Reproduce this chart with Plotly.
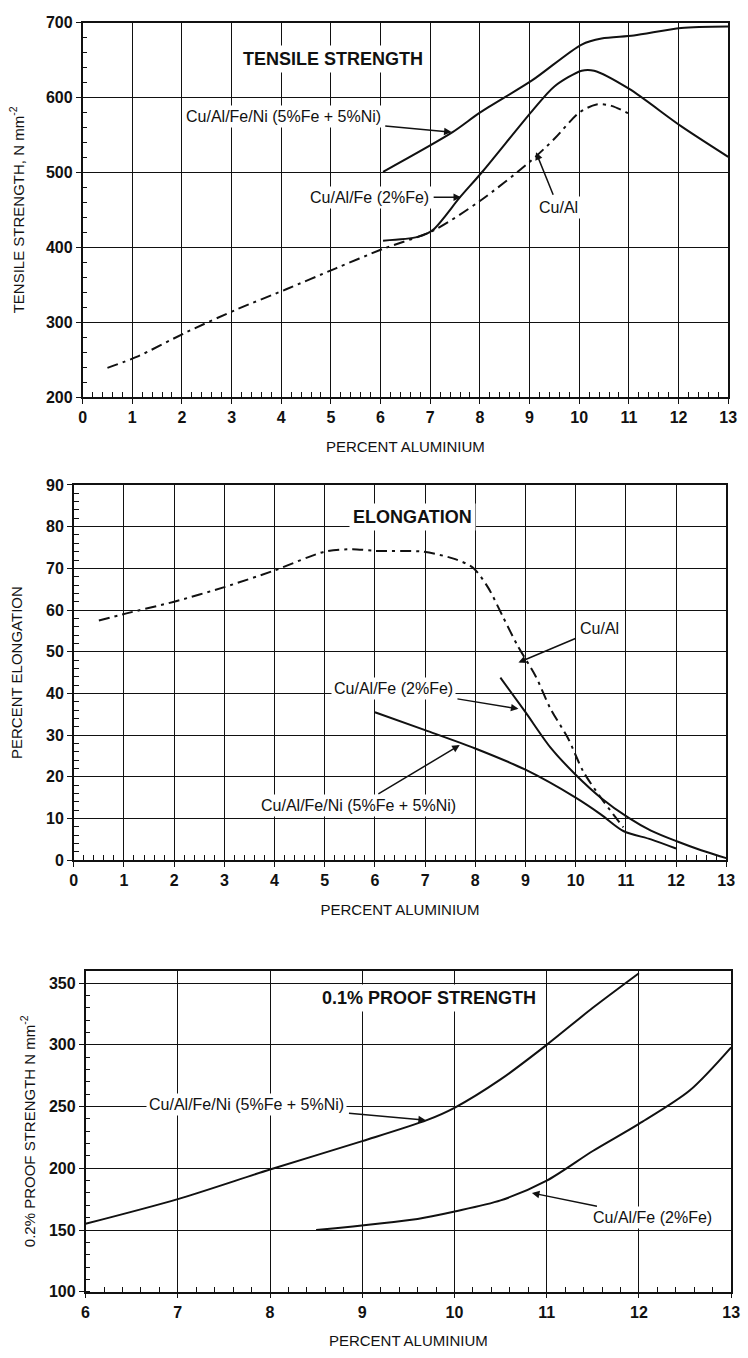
import plotly.graph_objects as go

# ---------------- data ----------------
# Chart 1: Tensile strength (N mm^-2) vs percent aluminium
ts_cual_x = [0.5, 1.1, 2.1, 3.1, 4.1, 5.1, 6.05, 7.05, 8.0, 9.0, 9.5, 10.0, 10.35, 10.65, 11.05]
ts_cual_y = [239, 254, 287, 317, 344, 372, 398, 422, 462, 514, 545, 580, 591, 589, 577]

ts_fe_x = [6.05, 6.75, 7.05, 7.6, 8.05, 9.05, 9.5, 10.05, 10.3, 11.0, 12.05, 13.0]
ts_fe_y = [409, 414, 423, 467, 501, 582, 615, 636, 636, 612, 562, 521]

ts_ni_x = [6.05, 7.45, 8.0, 9.05, 10.05, 10.45, 11.1, 12.05, 13.0]
ts_ni_y = [501, 554, 580, 623, 671, 679, 683, 693, 695]

# Chart 2: Percent elongation vs percent aluminium
el_cual_x = [0.5, 1.05, 2.0, 3.0, 4.0, 5.0, 5.55, 6.0, 6.95, 7.6, 7.95, 8.25, 8.55, 8.85, 9.2, 9.5, 9.85, 10.15, 10.5, 10.75, 10.95]
el_cual_y = [57.5, 59.2, 62.0, 65.5, 69.5, 74.0, 74.6, 74.2, 74.0, 72.2, 70.2, 65.5, 58.4, 51.3, 44.2, 36.3, 29.2, 21.3, 15.0, 11.0, 7.9]

el_fe_x = [8.5, 9.0, 9.5, 10.0, 10.5, 11.05, 11.5, 12.0, 12.5, 13.0]
el_fe_y = [43.8, 35.5, 27.0, 20.5, 15.0, 10.2, 7.1, 4.6, 2.4, 0.5]

el_ni_x = [6.0, 7.0, 8.0, 9.0, 10.0, 10.5, 10.95, 11.5, 12.0]
el_ni_y = [35.5, 31.2, 26.8, 21.7, 15.0, 11.0, 7.0, 5.0, 2.8]

# Chart 3: 0.2% proof strength (N mm^-2) vs percent aluminium
ps_ni_x = [6.0, 7.0, 8.0, 9.0, 9.7, 10.0, 10.5, 11.0, 11.5, 12.0]
ps_ni_y = [155, 175, 199, 222, 239, 249, 272, 300, 330, 358]

ps_fe_x = [8.5, 9.6, 10.0, 10.5, 11.0, 11.5, 12.0, 12.55, 13.0]
ps_fe_y = [150, 159, 165, 174, 190, 214, 236, 263, 298]

# tick values
x_ticks_full = list(range(0, 14))
x_ticks_part = list(range(6, 14))
ts_yticks = [200, 300, 400, 500, 600, 700]
el_yticks = [0, 10, 20, 30, 40, 50, 60, 70, 80, 90]
ps_yticks = [100, 150, 200, 250, 300, 350]

# ---------------- styling ----------------
BLACK = "#111111"
FAM = "Liberation Sans, Arial"
TICKFONT = dict(family=FAM, size=16, color=BLACK, weight="bold")
TITLEFONT = dict(family=FAM, size=15, color=BLACK)
LABELFONT = dict(family=FAM, size=16, color=BLACK)
HEADFONT = dict(family=FAM, size=18, color=BLACK, weight="bold")
DASH = "11px,5px,3px,5px"

fig = go.Figure()

def add_line(x, y, xa, ya, dash="solid"):
    fig.add_trace(go.Scatter(x=x, y=y, mode="lines", xaxis=xa, yaxis=ya,
                             line=dict(color=BLACK, width=2, dash=dash, shape="spline", smoothing=0.8),
                             showlegend=False, hoverinfo="skip"))

add_line(ts_cual_x, ts_cual_y, "x", "y", DASH)
add_line(ts_fe_x, ts_fe_y, "x", "y")
add_line(ts_ni_x, ts_ni_y, "x", "y")

add_line(el_cual_x, el_cual_y, "x2", "y2", DASH)
add_line(el_fe_x, el_fe_y, "x2", "y2")
add_line(el_ni_x, el_ni_y, "x2", "y2")

add_line(ps_ni_x, ps_ni_y, "x3", "y3")
add_line(ps_fe_x, ps_fe_y, "x3", "y3")

W, H = 748, 1358

def xaxis(dom, rng, tickvals, title, anchor, minor_dtick, standoff):
    return dict(domain=dom, range=rng, tickvals=tickvals, anchor=anchor,
                showline=True, mirror=True, linecolor=BLACK, linewidth=1.5,
                showgrid=True, gridcolor=BLACK, gridwidth=1, zeroline=False,
                ticks="outside", ticklen=5, tickcolor=BLACK, tickwidth=1.2,
                ticklabeloverflow="allow",
                tickfont=TICKFONT, title=dict(text=title, font=TITLEFONT, standoff=standoff),
                minor=dict(dtick=minor_dtick, ticks="inside", ticklen=5, tickcolor=BLACK, showgrid=False))

def yaxis(dom, rng, tickvals, title, anchor, minor_dtick, standoff):
    return dict(domain=dom, range=rng, tickvals=tickvals, anchor=anchor,
                showline=True, mirror=True, linecolor=BLACK, linewidth=1.5,
                showgrid=True, gridcolor=BLACK, gridwidth=1, zeroline=False,
                ticks="outside", ticklen=5, tickcolor=BLACK, tickwidth=1.2,
                ticklabeloverflow="allow",
                tickfont=TICKFONT, title=dict(text=title, font=TITLEFONT, standoff=standoff),
                minor=dict(dtick=minor_dtick, ticks="inside", ticklen=5, tickcolor=BLACK, showgrid=False))

fig.update_layout(
    width=W, height=H, paper_bgcolor="white", plot_bgcolor="white",
    margin=dict(l=0, r=0, t=0, b=0), showlegend=False,
    xaxis=xaxis([80 / W, 737 / W], [0, 13], x_ticks_full, "PERCENT ALUMINIUM", "y", 0.2, 16),
    yaxis=yaxis([1 - 394 / H, 1 - 15 / H], [200, 700], ts_yticks, "TENSILE STRENGTH, N mm<sup>-2</sup>", "x", 20, 18),
    xaxis2=xaxis([71 / W, 735 / W], [0, 13], x_ticks_full, "PERCENT ALUMINIUM", "y2", 0.2, 16),
    yaxis2=yaxis([1 - 863 / H, 1 - 483 / H], [0, 90], el_yticks, "PERCENT ELONGATION", "x2", 2, 20),
    xaxis3=xaxis([83 / W, 740 / W], [6, 13], x_ticks_part, "PERCENT ALUMINIUM", "y3", 0.2, 16),
    yaxis3=yaxis([1 - 1300 / H, 1 - 975 / H], [100, 360], ps_yticks, "0.2% PROOF STRENGTH N mm<sup>-2</sup>", "x3", 10, 10),
)

def head(text, x, y, xr, yr):
    fig.add_annotation(text=text, x=x, y=y, xref=xr, yref=yr, showarrow=False,
                       font=HEADFONT, bgcolor="white", borderpad=3)

def label(text, x, y, tx, ty, xr, yr):
    fig.add_annotation(text=text, x=x, y=y, ax=tx, ay=ty, xref=xr, yref=yr,
                       axref=xr, ayref=yr, showarrow=True, arrowhead=2, arrowsize=1,
                       arrowwidth=1.5, arrowcolor=BLACK, font=LABELFONT, bgcolor="white",
                       borderpad=2, standoff=0, startstandoff=2)

# chart 1 labels
head("TENSILE STRENGTH", 5.05, 651, "x", "y")
label("Cu/Al/Fe/Ni (5%Fe + 5%Ni)", 7.43, 554, 4.04, 575, "x", "y")
label("Cu/Al/Fe (2%Fe)", 7.62, 467, 5.78, 467, "x", "y")
label("Cu/Al", 9.13, 527, 9.58, 453, "x", "y")

# chart 2 labels
head("ELONGATION", 6.74, 82.2, "x2", "y2")
label("Cu/Al", 8.86, 47.4, 10.47, 55.6, "x2", "y2")
label("Cu/Al/Fe (2%Fe)", 8.86, 36.3, 6.37, 41.2, "x2", "y2")
label("Cu/Al/Fe/Ni (5%Fe + 5%Ni)", 7.69, 27.6, 5.67, 13.0, "x2", "y2")

# chart 3 labels
head("0.1% PROOF STRENGTH", 9.72, 338, "x3", "y3")
label("Cu/Al/Fe/Ni (5%Fe + 5%Ni)", 9.69, 239, 7.75, 252, "x3", "y3")
label("Cu/Al/Fe (2%Fe)", 10.84, 180, 12.15, 160, "x3", "y3")

fig.write_html("out.html", config={"displayModeBar": False},
               post_script="document.body.style.margin='0';document.body.style.overflow='hidden';")
